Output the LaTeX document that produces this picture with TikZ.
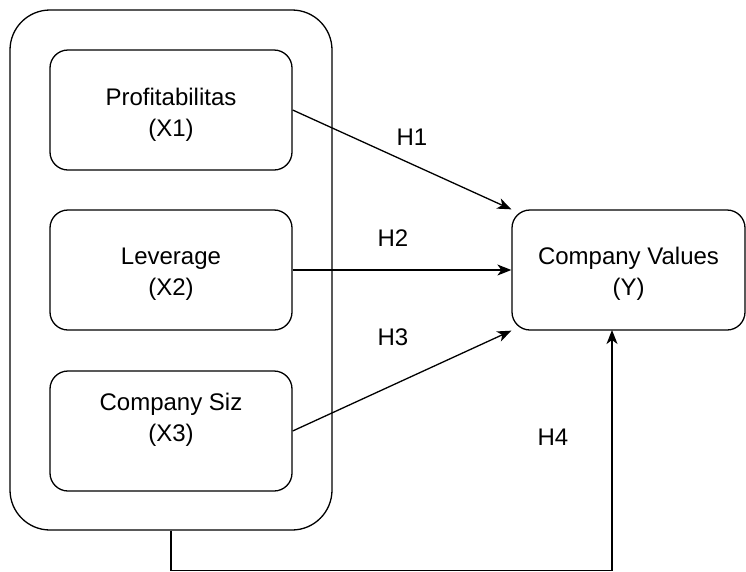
\documentclass[tikz,border=0pt]{standalone}
\usepackage{fontspec}
\setmainfont{Liberation Sans}
\usetikzlibrary{arrows.meta,positioning,calc}
\begin{document}
\begin{tikzpicture}[x=1pt,y=-1pt,
  every node/.style={font=\fontsize{24}{31}\selectfont, text=black},
  box/.style={draw, line width=1.3pt, rounded corners=18pt, inner sep=0pt},
  txt/.style={align=center, inner sep=0pt},
  outerbox/.style={draw, line width=1.3pt, rounded corners=40pt, inner sep=0pt},
  conn/.style={line width=1.3pt, -{Stealth[length=14pt,width=11pt,inset=4pt]}},
  hlabel/.style={inner sep=0pt}]
\useasboundingbox (0,0) rectangle (746,571);
\node[outerbox, minimum width=322pt, minimum height=520pt] (outer) at (171,270) {};
\node[box, minimum width=242pt, minimum height=120pt] (b1) at (171,110) {};
\node[box, minimum width=242pt, minimum height=120pt] (b2) at (171,270) {};
\node[box, minimum width=242pt, minimum height=120pt] (b3) at (171,431) {};
\node[box, minimum width=233pt, minimum height=120pt] (cv) at (628.5,270) {};
\node[txt] (t1) at (171,115) {Profitabilitas\\(X1)};
\node[txt] (t2) at (171,274) {Leverage\\(X2)};
\node[txt] (t3) at (171,420) {Company Siz\\(X3)};
\node[txt] (tcv) at (628.5,274) {Company Values\\(Y)};
\coordinate (h4end) at (612,330);
\draw[conn] (b1.east) -- (cv.north west);
\draw[conn] (b2.east) -- (cv.west);
\draw[conn] (b3.east) -- (cv.south west);
\draw[conn] (outer.south) -- ++(0,39.5) -| (h4end);
\node[hlabel] (h1) at (412,137) {H1};
\node[hlabel] (h2) at (393,238) {H2};
\node[hlabel] (h3) at (393,337) {H3};
\node[hlabel] (h4) at (553,437) {H4};
\end{tikzpicture}
\end{document}
